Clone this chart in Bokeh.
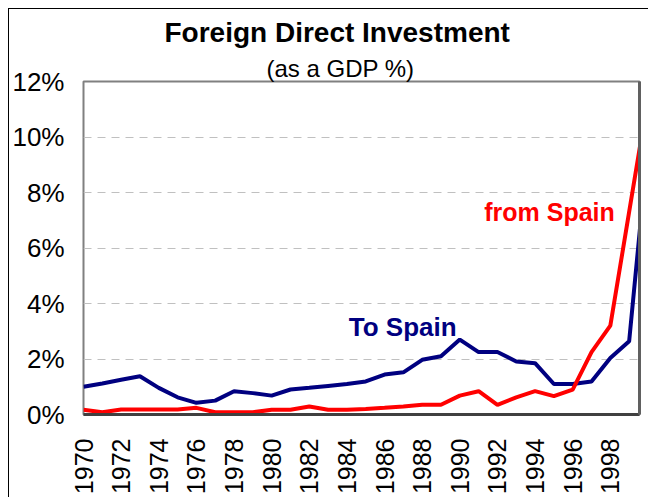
import math
from bokeh.plotting import figure
from bokeh.models import Range1d, FixedTicker, PrintfTickFormatter, Label, LinearAxis, Title
from bokeh.embed import file_html
from bokeh.resources import INLINE

# ---- data ----
years = list(range(1970, 2001))
to_spain = [1.00, 1.12, 1.25, 1.38, 0.96, 0.62, 0.42, 0.50, 0.84, 0.77,
            0.68, 0.90, 0.96, 1.03, 1.10, 1.19, 1.44, 1.52, 1.97, 2.10,
            2.70, 2.25, 2.25, 1.91, 1.85, 1.10, 1.10, 1.19, 2.04, 2.64, 9.70]
from_spain = [0.17, 0.08, 0.18, 0.18, 0.18, 0.18, 0.24, 0.08, 0.08, 0.08,
              0.17, 0.17, 0.29, 0.17, 0.17, 0.20, 0.24, 0.29, 0.35, 0.35,
              0.68, 0.84, 0.35, 0.62, 0.84, 0.66, 0.90, 2.25, 3.20, 7.30, 11.40]
x_ticks = list(range(1970, 1999, 2))
y_ticks = [0, 2, 4, 6, 8, 10, 12]

FONT = "Liberation Sans"

p = figure(width=640, height=489, output_backend="svg", toolbar_location=None,
           x_range=Range1d(1970, 1999.55), y_range=Range1d(0, 12),
           min_border_left=74, min_border_right=10, min_border_top=72,
           min_border_bottom=84, title=None)
p.styles = {"margin-left": "8px", "margin-top": "8px",
            "border-left": "1px solid black", "border-top": "1px solid black"}

p.background_fill_color = "white"
p.border_fill_color = "white"
p.outline_line_color = "#808080"
p.outline_line_width = 2

# titles (stacked outward from the frame: subtitle first)
p.add_layout(Title(text="(as a GDP %)", align="left", offset=183,
                   text_font=FONT, text_font_size="24px", text_font_style="normal",
                   text_color="black", standoff=0), "above")
p.add_layout(Title(text="Foreign Direct Investment", align="left", offset=81,
                   text_font=FONT, text_font_size="28px", text_font_style="bold",
                   text_color="black", standoff=10), "above")

# axes
p.xaxis.ticker = FixedTicker(ticks=x_ticks)
p.xaxis.major_label_orientation = math.pi / 2
p.xaxis.major_label_text_font = FONT
p.xaxis.major_label_text_font_size = "25px"
p.xaxis.major_label_text_color = "black"
p.xaxis.major_tick_line_color = None
p.xaxis.minor_tick_line_color = None
p.xaxis.axis_line_color = "#404040"
p.xaxis.axis_line_width = 3
p.xaxis.major_label_standoff = 18

p.yaxis.ticker = FixedTicker(ticks=y_ticks)
p.yaxis.formatter = PrintfTickFormatter(format="%d%%")
p.yaxis.major_label_text_font = FONT
p.yaxis.major_label_text_font_size = "26px"
p.yaxis.major_label_text_color = "black"
p.yaxis.major_tick_line_color = None
p.yaxis.minor_tick_line_color = None
p.yaxis.axis_line_color = None
p.yaxis.major_label_standoff = 13

right = LinearAxis(ticker=FixedTicker(ticks=[]), axis_line_color="#606060",
                   axis_line_width=3, major_tick_line_color=None,
                   minor_tick_line_color=None, major_label_text_font_size="0px")
p.add_layout(right, "right")

p.xgrid.grid_line_color = None
p.ygrid.ticker = FixedTicker(ticks=y_ticks)
p.ygrid.grid_line_color = "#c0c0c0"
p.ygrid.grid_line_dash = "8 6"
p.ygrid.grid_line_width = 1

p.line(years, to_spain, line_color="#000080", line_width=4)
p.line(years, from_spain, line_color="#ff0000", line_width=4)

p.add_layout(Label(x=1984.1, y=3.17, text="To Spain", text_font=FONT,
                   text_font_size="26px", text_font_style="bold",
                   text_color="#000080", text_baseline="middle", text_align="left"))
p.add_layout(Label(x=1991.3, y=7.3, text="from Spain", text_font=FONT,
                   text_font_size="25px", text_font_style="bold",
                   text_color="#ff0000", text_baseline="middle", text_align="left"))

open("out.html", "w").write(file_html(p, INLINE))
